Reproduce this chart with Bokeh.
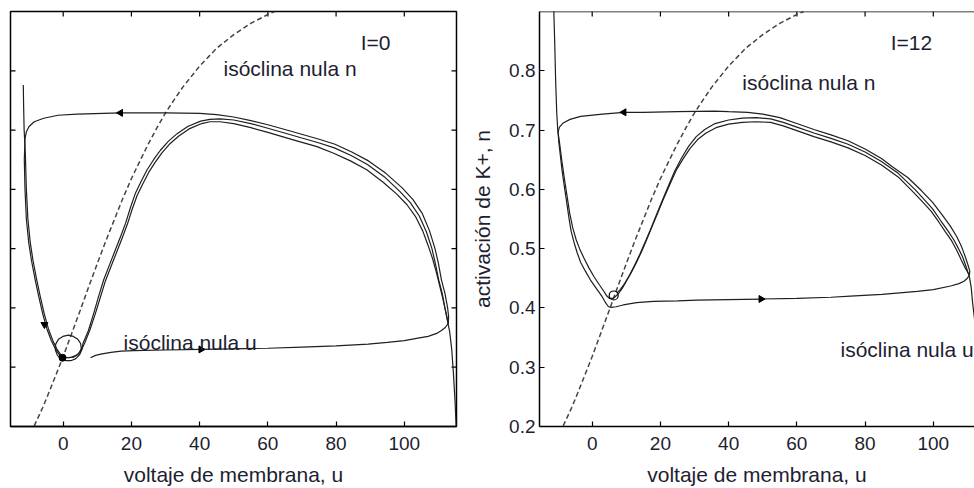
import math
from bokeh.plotting import figure
from bokeh.models import FixedTicker, Range1d, Label, Span
from bokeh.layouts import row
from bokeh.embed import file_html
from bokeh.resources import INLINE

# ---------------- data ----------------
X_TICKS = [0, 20, 40, 60, 80, 100]
Y_TICKS = [0.2, 0.3, 0.4, 0.5, 0.6, 0.7, 0.8]
X_LABEL = "voltaje de membrana, u"
Y_LABEL = "activación de K+, n"

# n-nullcline (dashed), same in both panels
NULL_N_U = [-8.5, -6, -4, -2, 0, 2.5, 5, 7.5, 10, 12.5, 15, 17.5, 20, 22.5, 25,
            27.5, 30, 32.5, 35, 40, 45, 50, 55, 60, 62]
NULL_N_N = [0.201, 0.232, 0.260, 0.289, 0.318, 0.357, 0.396, 0.436, 0.475, 0.513,
            0.549, 0.585, 0.618, 0.648, 0.677, 0.704, 0.729, 0.751, 0.772, 0.808,
            0.838, 0.861, 0.880, 0.895, 0.900]

# ---- panel I=0 trajectories (u, n) ----
I0_A = [(8.0, 0.316), (9.5, 0.320), (11, 0.322), (14, 0.325), (17, 0.327), (20.7, 0.328),
        (30, 0.329), (40.4, 0.330), (50, 0.331), (60, 0.332), (70, 0.334), (80, 0.336),
        (89.4, 0.339), (95, 0.342), (100, 0.345), (104, 0.349), (107, 0.352), (109.5, 0.357),
        (110.9, 0.362), (112, 0.367), (112.9, 0.374), (113.0, 0.385), (112.7, 0.40),
        (111.9, 0.425), (110.9, 0.447), (110.0, 0.475), (109.0, 0.50), (107.4, 0.53),
        (105.3, 0.559), (102.5, 0.583), (99.3, 0.603), (94.6, 0.627), (89.5, 0.648),
        (84.6, 0.663), (79.7, 0.676), (74.8, 0.685), (69.9, 0.693), (65, 0.701), (60, 0.709),
        (55, 0.716), (50, 0.722), (45, 0.726), (40, 0.728), (30, 0.729), (16.8, 0.729),
        (4.1, 0.727), (-1.5, 0.725), (-5.7, 0.720), (-8.5, 0.714), (-10.0, 0.706),
        (-10.8, 0.697), (-11.2, 0.685), (-11.4, 0.65), (-11.2, 0.60), (-10.8, 0.55),
        (-10.1, 0.51), (-9.3, 0.48), (-8.3, 0.45), (-7.2, 0.42), (-6.0, 0.39), (-4.8, 0.365),
        (-3.5, 0.345), (-2.2, 0.33), (-1.0, 0.32), (-0.3, 0.316)]
I0_B = [(-11.7, 0.776), (-11.6, 0.74), (-11.45, 0.70), (-11.1, 0.66), (-10.8, 0.60),
        (-10.35, 0.55), (-9.65, 0.51), (-8.85, 0.48), (-7.85, 0.45), (-6.75, 0.42),
        (-5.55, 0.39), (-4.35, 0.365), (-3.05, 0.345), (-1.8, 0.33), (-0.6, 0.32), (0.0, 0.317)]
I0_C = [(115.2, 0.20), (114.9, 0.24), (114.4, 0.29), (113.9, 0.33), (113.3, 0.36), (112.6, 0.38),
        (111.9, 0.40), (111.1, 0.425), (110.1, 0.447), (109.1, 0.475), (108.1, 0.50),
        (106.5, 0.528), (104.4, 0.555), (101.7, 0.578), (98.6, 0.597), (94.2, 0.621),
        (89.2, 0.642), (84.4, 0.657), (79.5, 0.670), (74.6, 0.679), (69.7, 0.687),
        (64.9, 0.695), (60, 0.703), (55, 0.711), (50, 0.717), (46, 0.719), (43, 0.718),
        (40.3, 0.715), (36.5, 0.706), (33.4, 0.694), (30.8, 0.681), (28.5, 0.666), (26.5, 0.65),
        (24.6, 0.633), (22.9, 0.614), (21.2, 0.594), (19.7, 0.569), (18.3, 0.543), (16.8, 0.52),
        (15.3, 0.498), (13.6, 0.473), (11.9, 0.448), (10.4, 0.42), (8.9, 0.39), (7.4, 0.362),
        (5.8, 0.34), (5.5, 0.33), (4.8, 0.321), (3.6, 0.314), (2.2, 0.311), (0.8, 0.311),
        (-0.6, 0.314), (-1.7, 0.32), (-2.3, 0.329), (-2.2, 0.339), (-1.4, 0.347), (-0.1, 0.352),
        (1.5, 0.354), (3.0, 0.352), (4.3, 0.347), (5.1, 0.34), (5.3, 0.332), (4.8, 0.325),
        (3.8, 0.32), (2.5, 0.317), (1.2, 0.316), (0.0, 0.317)]
I0_D = [(112.9, 0.374), (112.3, 0.39), (111.4, 0.413), (110.4, 0.437), (109.4, 0.46),
        (108.3, 0.483), (107.0, 0.505), (105.4, 0.53), (103.4, 0.553), (100.8, 0.574),
        (97.8, 0.592), (93.8, 0.612), (89.0, 0.633), (84.2, 0.648), (79.3, 0.661), (74.4, 0.672),
        (69.5, 0.680), (64.7, 0.688), (60, 0.696), (55, 0.704), (50, 0.711), (46, 0.714),
        (43, 0.714), (40.6, 0.711), (36.9, 0.702), (33.9, 0.690), (31.3, 0.677), (29.0, 0.662),
        (27.0, 0.646), (25.1, 0.629), (23.4, 0.61), (21.7, 0.59), (20.2, 0.566), (18.8, 0.541),
        (17.3, 0.518), (15.8, 0.496), (14.1, 0.471), (12.4, 0.446), (10.9, 0.418), (9.4, 0.39),
        (7.9, 0.364), (6.4, 0.342), (5.4, 0.33), (4.4, 0.322), (3.0, 0.317), (1.6, 0.316),
        (0.4, 0.317)]
I0_EQ = (-0.2, 0.316)
I0_ARROWS = [(16.8, 0.729, "left"), (40.4, 0.330, "right"), (-5.5, 0.372, "down")]

# ---- panel I=12 trajectories (u, n) ----
I12_A = [(5.5, 0.401), (7.0, 0.402), (9.1, 0.405), (13, 0.409), (17.9, 0.411), (25, 0.412),
         (30.7, 0.413), (40, 0.414), (49.5, 0.415), (60, 0.416), (70, 0.418), (75.7, 0.420),
         (85, 0.423), (95.3, 0.428), (100, 0.431), (105.1, 0.437), (107.5, 0.441), (109.0, 0.445),
         (110.0, 0.450), (110.6, 0.456), (110.7, 0.462), (110.2, 0.472), (109.4, 0.486),
         (108.3, 0.503), (106.9, 0.520), (105.0, 0.538), (102.6, 0.557), (99.8, 0.578),
         (96.5, 0.598), (92.5, 0.620), (88, 0.638), (84.8, 0.652), (80, 0.668), (75, 0.682),
         (70, 0.692), (65, 0.701), (60, 0.711), (55, 0.721), (50, 0.727), (45.6, 0.730),
         (40, 0.731), (35.8, 0.732), (25, 0.731), (15, 0.730), (9.3, 0.730), (3, 0.727),
         (-3.4, 0.723), (-6.5, 0.718), (-8.5, 0.712), (-9.6, 0.705), (-10.0, 0.697),
         (-9.8, 0.68), (-9.4, 0.66), (-8.9, 0.635), (-8.3, 0.61), (-7.6, 0.583), (-6.9, 0.555),
         (-6.2, 0.53), (-5.3, 0.51), (-4.4, 0.493), (-3.4, 0.477), (-2.0, 0.462), (-0.5, 0.447),
         (1.2, 0.433), (2.8, 0.42), (4.0, 0.408), (4.8, 0.402), (5.5, 0.401)]
I12_B = [(-11.3, 0.91), (-11.0, 0.85), (-10.7, 0.78), (-10.4, 0.73), (-10.1, 0.70),
         (-9.5, 0.675), (-8.9, 0.648), (-8.2, 0.62), (-7.4, 0.59), (-6.6, 0.56), (-5.7, 0.535),
         (-4.7, 0.515), (-3.7, 0.50), (-2.5, 0.485), (-1.0, 0.468), (0.5, 0.453), (2.0, 0.44),
         (3.3, 0.429), (4.3, 0.42), (5.1, 0.416), (5.9, 0.416), (6.8, 0.419), (7.8, 0.425),
         (8.8, 0.433), (10.0, 0.445), (11.4, 0.459), (12.9, 0.476), (14.4, 0.494), (15.9, 0.514),
         (17.4, 0.535), (19.0, 0.557), (20.7, 0.581), (22.6, 0.606), (24.6, 0.632), (26.6, 0.651),
         (28.7, 0.669), (30.9, 0.684), (33.4, 0.695), (36.3, 0.704), (40, 0.710), (44, 0.713),
         (48, 0.714), (52.3, 0.713), (56, 0.707), (60, 0.699), (65, 0.689), (70, 0.680),
         (75, 0.670), (80, 0.657), (84.8, 0.641), (89.7, 0.621), (94.2, 0.595), (97, 0.578),
         (99.4, 0.563), (101.6, 0.545), (103.6, 0.528), (105.4, 0.513), (106.9, 0.497),
         (108.2, 0.481), (109.3, 0.468), (110.3, 0.458)]
I12_C = [(114.5, 0.20), (113.6, 0.28), (112.8, 0.34), (112.1, 0.38), (111.5, 0.41),
         (111.1, 0.435), (110.6, 0.452), (109.6, 0.47), (108.6, 0.486), (107.4, 0.50),
         (106.0, 0.515), (104.3, 0.53), (102.2, 0.547), (99.8, 0.567), (97.3, 0.583),
         (94.6, 0.60), (89.7, 0.627), (84.8, 0.647), (80, 0.663), (75, 0.676), (70, 0.686),
         (65, 0.695), (60, 0.705), (56, 0.713), (52.3, 0.719), (48, 0.721), (44, 0.720),
         (40, 0.717), (36, 0.711), (33, 0.701), (30.5, 0.689), (28.3, 0.673), (26.2, 0.653),
         (24.2, 0.631), (22.2, 0.604), (20.3, 0.578), (18.6, 0.554), (17.0, 0.531), (15.5, 0.511),
         (14.0, 0.491), (12.5, 0.473), (11.0, 0.456), (9.5, 0.441), (8.2, 0.431), (7.2, 0.425)]
I12_EQ = (6.3, 0.421)
I12_ARROWS = [(9.3, 0.730, "left"), (49.5, 0.415, "right")]

I0_TEXTS = [("I=0", 87.2, 0.848), ("isóclina nula n", 47.0, 0.804), ("isóclina nula u", 17.7, 0.342)]
I12_TEXTS = [("I=12", 87.5, 0.848), ("isóclina nula n", 44.0, 0.781), ("isóclina nula u", 72.8, 0.330)]

# ---------------- style ----------------
FONT = "Liberation Sans"
TEXT = "#1e1e30"
LINE = "#1f1f1f"
ANGLES = {"left": math.pi / 2, "right": -math.pi / 2, "down": math.pi}
X_START = -15.45
PX_PER_UNIT = 3.411
FIG_H = 488
BORDER_TOP = 11
BORDER_BOTTOM = 61
TICK_PX = 5


def style_axis(ax, ticks):
    ax.ticker = FixedTicker(ticks=ticks)
    ax.major_tick_in = TICK_PX
    ax.major_tick_out = 0
    ax.minor_tick_line_color = None
    ax.axis_line_color = "black"
    ax.axis_line_width = 1.5
    ax.major_tick_line_color = "black"
    ax.major_tick_line_width = 1.2
    ax.major_label_text_font = FONT
    ax.major_label_text_color = TEXT
    ax.major_label_text_font_size = "19px"


def make_panel(width, border_left, border_right, ylabels, right_ticks,
               trajs, eq, eq_filled, arrows, texts):
    frame_w = width - border_left - border_right
    frame_h = FIG_H - BORDER_TOP - BORDER_BOTTOM
    x_end = X_START + frame_w / PX_PER_UNIT
    dy = TICK_PX * 0.7 / frame_h
    dx = TICK_PX / PX_PER_UNIT
    p = figure(width=width, height=FIG_H, x_range=Range1d(X_START, x_end),
               y_range=Range1d(0.2, 0.9), output_backend="svg", toolbar_location=None,
               min_border_left=border_left, min_border_right=border_right,
               min_border_top=BORDER_TOP, min_border_bottom=BORDER_BOTTOM,
               y_axis_location="left" if ylabels else None)
    p.grid.visible = False
    p.background_fill_color = "white"
    p.border_fill_color = "white"

    style_axis(p.xaxis[0], X_TICKS)
    p.xaxis.major_label_standoff = 10
    p.xaxis.axis_label = X_LABEL
    p.xaxis.axis_label_text_font = FONT
    p.xaxis.axis_label_text_font_size = "21px"
    p.xaxis.axis_label_text_font_style = "normal"
    p.xaxis.axis_label_text_color = TEXT
    p.xaxis.axis_label_standoff = 10

    if ylabels:
        style_axis(p.yaxis[0], Y_TICKS)
        p.yaxis.major_label_standoff = 4
        p.yaxis.axis_label = Y_LABEL
        p.yaxis.axis_label_text_font = FONT
        p.yaxis.axis_label_text_font_size = "21px"
        p.yaxis.axis_label_text_font_style = "normal"
        p.yaxis.axis_label_text_color = TEXT
        p.yaxis.axis_label_standoff = 12
        p.outline_line_color = None
        p.add_layout(Span(location=0.9, dimension="width", line_color="black",
                          line_width=1.5))
    else:
        p.outline_line_color = "black"
        p.outline_line_width = 1.5
        p.outline_line_alpha = 1.0
        # inward ticks on the left edge
        p.segment(x0=[X_START] * len(Y_TICKS), y0=Y_TICKS,
                  x1=[X_START + dx] * len(Y_TICKS), y1=Y_TICKS,
                  line_color="black", line_width=1.2)

    # inward ticks on the top edge
    p.segment(x0=X_TICKS, y0=[0.9] * len(X_TICKS), x1=X_TICKS,
              y1=[0.9 - dy] * len(X_TICKS), line_color="black", line_width=1.2)
    if right_ticks:
        p.segment(x0=[x_end] * len(Y_TICKS), y0=Y_TICKS,
                  x1=[x_end - dx] * len(Y_TICKS), y1=Y_TICKS,
                  line_color="black", line_width=1.2)

    p.line(NULL_N_U, NULL_N_N, line_dash="5 3", line_width=1.5, color="#444444")
    for tr in trajs:
        p.line([a for a, b in tr], [b for a, b in tr], line_width=1.2, color=LINE)

    p.scatter([a[0] for a in arrows], [a[1] for a in arrows], marker="triangle",
              angle=[ANGLES[a[2]] for a in arrows], size=7, color="black")
    if eq_filled:
        p.scatter([eq[0]], [eq[1]], size=7, color="black")
    else:
        p.scatter([eq[0]], [eq[1]], size=9, fill_color=None, line_color="black",
                  line_width=1.2)

    for t, x, y in texts:
        p.add_layout(Label(x=x, y=y, text=t, text_font=FONT, text_font_size="21px",
                           text_color=TEXT, text_baseline="alphabetic", text_align="left"))
    return p


p1 = make_panel(460, 10, 4, False, True, [I0_A, I0_B, I0_C, I0_D], I0_EQ, True,
                I0_ARROWS, I0_TEXTS)
p2 = make_panel(514, 79, 0, True, False, [I12_A, I12_B, I12_C], I12_EQ, False,
                I12_ARROWS, I12_TEXTS)

layout = row(p1, p2)
open("out.html", "w").write(file_html(layout, INLINE))
